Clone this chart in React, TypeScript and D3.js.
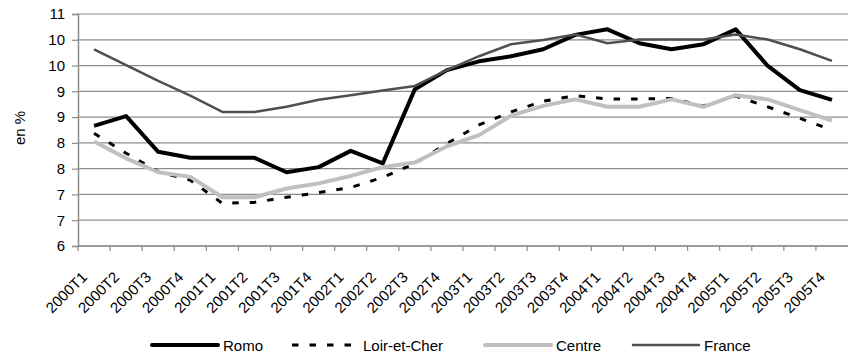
import { useRef, useEffect } from 'react';
import * as d3 from 'd3';

const quarters = [
  '2000T1', '2000T2', '2000T3', '2000T4',
  '2001T1', '2001T2', '2001T3', '2001T4',
  '2002T1', '2002T2', '2002T3', '2002T4',
  '2003T1', '2003T2', '2003T3', '2003T4',
  '2004T1', '2004T2', '2004T3', '2004T4',
  '2005T1', '2005T2', '2005T3', '2005T4',
];

const romo = [
  8.59, 8.80, 8.03, 7.90, 7.90, 7.90, 7.59, 7.70, 8.05, 7.78, 9.38, 9.79,
  9.98, 10.09, 10.24, 10.55, 10.67, 10.37, 10.24, 10.35, 10.67, 9.88, 9.36, 9.15,
];
const loirEtCher = [
  8.43, 8.00, 7.60, 7.42, 6.92, 6.94, 7.05, 7.15, 7.26, 7.48, 7.78, 8.21,
  8.61, 8.89, 9.12, 9.24, 9.17, 9.17, 9.18, 9.02, 9.23, 9.00, 8.75, 8.50,
];
const centre = [
  8.25, 7.89, 7.59, 7.49, 7.05, 7.05, 7.24, 7.35, 7.51, 7.70, 7.80, 8.15,
  8.39, 8.81, 9.02, 9.16, 9.00, 9.00, 9.16, 9.00, 9.25, 9.16, 8.93, 8.70,
];
const france = [
  10.24, 9.90, 9.56, 9.24, 8.89, 8.89, 9.00, 9.15, 9.25, 9.35, 9.45, 9.79,
  10.09, 10.35, 10.44, 10.56, 10.37, 10.45, 10.45, 10.45, 10.56, 10.45, 10.24, 9.99,
];

// labels as Excel printed them (0 decimals on a 5/9 major unit)
const yTickLabels = ['6', '7', '7', '8', '8', '9', '9', '10', '10', '11'];
const yDomain: [number, number] = [6, 11];

const seriesDefs = [
  { name: 'Romo', values: romo, color: '#000000', width: 4, dash: '' },
  { name: 'Loir-et-Cher', values: loirEtCher, color: '#000000', width: 3, dash: '6.5,11' },
  { name: 'Centre', values: centre, color: '#c0c0c0', width: 4, dash: '' },
  { name: 'France', values: france, color: '#505050', width: 2.5, dash: '' },
];

const W = 850;
const H = 360;

export default function App() {
  const svgRef = useRef<SVGSVGElement>(null);

  useEffect(() => {
    if (!svgRef.current) return;
    const svg = d3.select(svgRef.current);
    svg.selectAll('*').remove();

    const margin = { top: 14, right: 2, bottom: 114, left: 78 };
    const innerWidth = W - margin.left - margin.right;
    const innerHeight = H - margin.top - margin.bottom;
    const font = "'Liberation Sans', Arial, sans-serif";

    const x = d3.scaleBand().domain(quarters).range([0, innerWidth]);
    const y = d3.scaleLinear().domain(yDomain).range([innerHeight, 0]);
    const step = (yDomain[1] - yDomain[0]) / (yTickLabels.length - 1);
    const yTicks = yTickLabels.map((_, i) => yDomain[0] + i * step);

    const g = svg.append('g')
      .attr('transform', `translate(${margin.left},${margin.top})`);

    // grid lines
    g.append('g')
      .selectAll('line')
      .data(yTicks)
      .enter()
      .append('line')
      .attr('x1', 0)
      .attr('x2', innerWidth)
      .attr('y1', d => y(d))
      .attr('y2', d => y(d))
      .style('stroke', '#8c8c8c')
      .style('stroke-width', 1.2);

    // Y axis
    const yAxis = g.append('g')
      .call(d3.axisLeft(y)
        .tickValues(yTicks)
        .tickSize(6)
        .tickPadding(7)
        .tickFormat((_, i) => yTickLabels[i]));
    yAxis.selectAll('text')
      .style('fill', '#000')
      .style('font-family', font)
      .style('font-size', '15px');
    yAxis.selectAll('line').style('stroke', '#8c8c8c').style('stroke-width', 1.2);
    yAxis.select('.domain').style('stroke', '#8c8c8c').style('stroke-width', 1.5);

    // X axis: ticks between categories
    const xg = g.append('g').attr('transform', `translate(0,${innerHeight})`);
    xg.append('line')
      .attr('x1', 0)
      .attr('x2', innerWidth)
      .style('stroke', '#8c8c8c')
      .style('stroke-width', 1.5);
    xg.selectAll('.tk')
      .data(quarters)
      .enter()
      .append('line')
      .attr('class', 'tk')
      .attr('x1', d => x(d) || 0)
      .attr('x2', d => x(d) || 0)
      .attr('y1', 0)
      .attr('y2', 5)
      .style('stroke', '#8c8c8c')
      .style('stroke-width', 1.2);
    xg.selectAll('text')
      .data(quarters)
      .enter()
      .append('text')
      .attr('transform', d => `translate(${(x(d) || 0) + x.bandwidth() / 2 - 6},${32}) rotate(-45)`)
      .attr('text-anchor', 'end')
      .style('font-family', font)
      .style('font-size', '15px')
      .style('fill', '#000')
      .text(d => d);

    // Y title
    svg.append('text')
      .attr('transform', `translate(25,${margin.top + innerHeight / 2 - 2}) rotate(-90)`)
      .attr('text-anchor', 'middle')
      .style('font-family', font)
      .style('font-size', '15px')
      .text('en %');

    const line = d3.line<number>()
      .x((_, i) => (x(quarters[i]) || 0) + x.bandwidth() / 2)
      .y(d => y(d));

    g.append('g')
      .selectAll('path')
      .data(seriesDefs)
      .enter()
      .append('path')
      .attr('fill', 'none')
      .attr('stroke', d => d.color)
      .attr('stroke-width', d => d.width)
      .attr('stroke-dasharray', d => d.dash || null)
      .attr('stroke-linejoin', 'round')
      .attr('d', d => line(d.values));

    // legend
    const legendX = [152, 292, 485, 633];
    const legendY = 345;
    const lg = svg.append('g');
    seriesDefs.forEach((s, i) => {
      lg.append('line')
        .attr('x1', legendX[i])
        .attr('x2', legendX[i] + 66)
        .attr('y1', legendY)
        .attr('y2', legendY)
        .attr('stroke', s.color)
        .attr('stroke-width', s.width)
        .attr('stroke-linecap', s.dash ? 'butt' : 'round')
        .attr('stroke-dasharray', s.dash || null);
      lg.append('text')
        .attr('x', legendX[i] + 71)
        .attr('y', legendY + 6)
        .style('font-family', font)
        .style('font-size', '15px')
        .text(s.name);
    });
  }, []);

  return (
    <svg
      ref={svgRef}
      width={W}
      height={H}
      style={{ position: 'absolute', left: 0, top: 0, background: '#fff' }}
    />
  );
}
